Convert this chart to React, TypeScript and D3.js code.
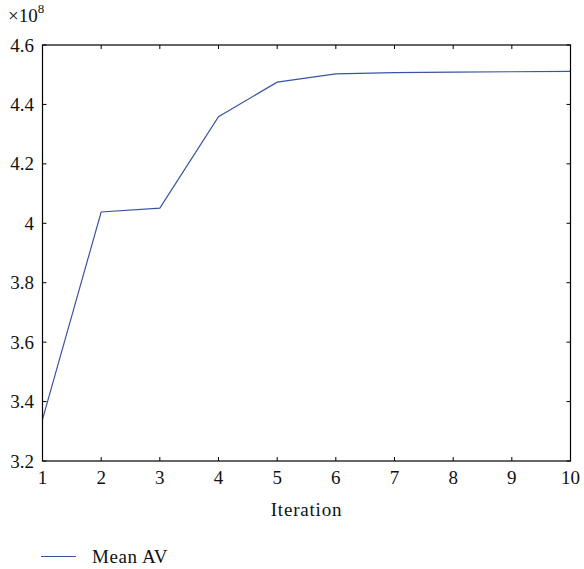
import React from "react";
import * as d3 from "d3";

const iterations = [1, 2, 3, 4, 5, 6, 7, 8, 9, 10];
const meanAV = [3.34, 4.038, 4.051, 4.359, 4.475, 4.503, 4.507, 4.509, 4.510, 4.511];
const xTicks = [1, 2, 3, 4, 5, 6, 7, 8, 9, 10];
const yTicks = [3.2, 3.4, 3.6, 3.8, 4.0, 4.2, 4.4, 4.6];
const seriesName = "Mean AV";

const W = 584, H = 569;
const L = 42.5, R = 570.5, T = 45, B = 461;
const font = "'Liberation Serif', 'DejaVu Serif', serif";
const color = "#3a54a4";

export default function App() {
  const x = d3.scaleLinear().domain([1, 10]).range([L, R]);
  const y = d3.scaleLinear().domain([3.2, 4.6]).range([B, T]);
  const line = d3.line<number>().x((_, i) => x(iterations[i])).y((d) => y(d));
  const tl = 4;
  const fs = 19;
  return (
    <svg width={W} height={H} style={{ position: "absolute", left: 0, top: 0 }} fontFamily={font}>
      <rect x={0} y={0} width={W} height={H} fill="#fff" />
      <path d={line(meanAV) || ""} fill="none" stroke={color} strokeWidth={1.2} />
      <rect x={L} y={T} width={R - L} height={B - T} fill="none" stroke="#000" strokeWidth={1.2} />
      {xTicks.map((t) => (
        <g key={"x" + t}>
          <line x1={x(t)} x2={x(t)} y1={B} y2={B - tl} stroke="#000" strokeWidth={1} />
          <line x1={x(t)} x2={x(t)} y1={T} y2={T + tl} stroke="#000" strokeWidth={1} />
          <text x={x(t)} y={484} fontSize={fs} textAnchor="middle" fill="#111">{t}</text>
        </g>
      ))}
      {yTicks.map((t) => (
        <g key={"y" + t}>
          <line x1={L} x2={L + tl} y1={y(t)} y2={y(t)} stroke="#000" strokeWidth={1} />
          <line x1={R} x2={R - tl} y1={y(t)} y2={y(t)} stroke="#000" strokeWidth={1} />
          <text x={34} y={y(t) + 6.5} fontSize={fs} textAnchor="end" fill="#111">{d3.format("")(+t.toFixed(1))}</text>
        </g>
      ))}
      <text x={8} y={22} fontSize={fs} fill="#111">×10<tspan fontSize={13} dy={-9}>8</tspan></text>
      <text x={(L + R) / 2} y={516} fontSize={fs} letterSpacing={0.8} textAnchor="middle" fill="#111">Iteration</text>
      <line x1={41} x2={76} y1={556.5} y2={556.5} stroke={color} strokeWidth={1.2} />
      <text x={92} y={563} fontSize={fs} letterSpacing={0.6} fill="#111">{seriesName}</text>
    </svg>
  );
}
